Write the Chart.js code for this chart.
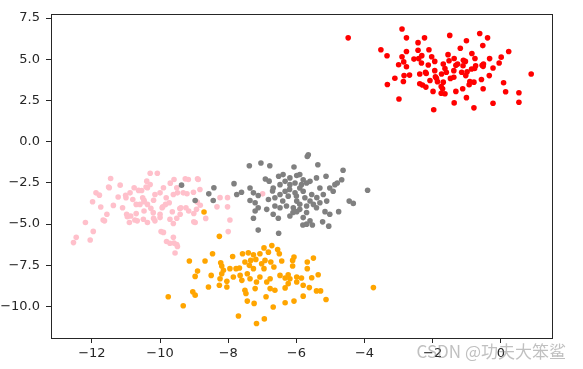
<!DOCTYPE html>
<html>
<head>
<meta charset="utf-8">
<script src="https://cdn.jsdelivr.net/npm/chart.js@4/dist/chart.umd.min.js"></script>
<style>
html,body{margin:0;padding:0;background:#fff;}
#c{display:block;}
</style>
</head>
<body>
<canvas id="c" width="583" height="369"></canvas>
<script>
// ---- data ----
const xTickValues = [-12, -10, -8, -6, -4, -2, 0];
const xTickLabels = ["\u221212", "\u221210", "\u22128", "\u22126", "\u22124", "\u22122", "0"];
const yTickValues = [7.5, 5.0, 2.5, 0.0, -2.5, -5.0, -7.5, -10.0];
const yTickLabels = ["7.5", "5.0", "2.5", "0.0", "\u22122.5", "\u22125.0", "\u22127.5", "\u221210.0"];
const xRange = [-13.2, 1.53];
const yRange = [-11.92, 7.76];

const redPoints = [
[-4.48,6.30],[-2.90,6.84],[-2.77,6.30],[-2.43,6.01],[-2.24,6.30],[-1.50,6.45],[-1.01,6.12],[-0.62,6.56],[-0.39,6.30],[-0.53,5.83],
[-3.52,5.58],[-3.34,5.21],[-2.77,5.47],[-2.43,5.55],[-2.11,5.58],[-1.19,5.67],[-0.85,5.35],[0.23,5.47],[0.01,5.13],[-2.90,5.15],
[-2.55,5.01],[-2.32,5.22],[-2.03,5.15],[-1.55,5.28],[-1.37,5.05],[-1.04,4.87],[-0.76,5.05],[-3.00,4.67],[-2.77,4.55],[-2.33,4.77],
[-2.13,4.65],[-1.94,4.87],[-1.69,4.71],[-1.52,4.91],[-1.27,4.71],[-1.11,4.61],[-0.74,4.61],[-0.51,4.71],[-0.23,4.47],[-0.05,4.77],
[0.89,4.11],[-3.11,3.85],[-2.84,4.01],[-2.38,4.11],[-2.21,4.21],[-1.94,4.31],[-1.74,4.11],[-1.60,4.21],[-1.38,4.31],[-1.15,4.21],
[-1.03,4.01],[-0.86,4.41],[-0.52,4.57],[-0.34,4.01],[-3.33,3.47],[-2.86,3.65],[-2.38,3.51],[-2.08,3.71],[-1.89,3.85],[-1.69,3.61],
[-1.38,3.91],[-0.91,3.65],[-0.79,3.61],[-0.57,3.77],[0.08,3.57],[-2.20,3.31],[-1.99,3.05],[-1.71,3.21],[-1.64,2.91],[-1.32,3.05],
[-1.12,3.21],[-0.93,3.45],[-0.52,3.21],[0.14,3.03],[0.53,2.97],[-2.99,2.59],[-1.37,2.35],[-1.01,2.67],[-0.79,2.05],[-0.23,2.33],
[0.53,2.39],[-1.97,1.94],[-2.41,5.04],[-2.19,4.14],[-1.92,3.94],[-1.86,3.64],[-1.75,3.34],[-1.64,4.44],[-1.32,4.64],[-1.10,4.94],
[-0.99,4.24],[-0.77,4.44],[-0.55,4.64],[-2.30,3.44],[-2.68,4.04],[-2.85,4.84],[-0.33,5.04],[-1.75,2.94],[-1.48,3.84]
];

const pinkPoints = [
[-11.45,-2.24],[-11.17,-2.64],[-11.49,-2.80],[-11.88,-3.11],[-11.78,-3.25],[-11.98,-3.65],[-11.74,-3.97],[-11.37,-3.87],[-11.56,-4.41],[-11.63,-4.81],
[-12.19,-4.91],[-11.96,-5.45],[-12.46,-5.81],[-12.54,-6.13],[-12.05,-5.97],[-10.29,-1.92],[-10.08,-1.92],[-10.39,-2.40],[-10.29,-2.60],[-10.37,-2.80],
[-10.54,-2.97],[-10.76,-2.80],[-10.88,-3.11],[-11.00,-3.41],[-11.10,-4.01],[-10.98,-4.41],[-10.86,-4.51],[-10.90,-4.91],[-10.67,-4.81],[-10.51,-3.41],
[-10.47,-3.65],[-10.37,-3.81],[-10.27,-4.05],[-10.15,-3.21],[-10.00,-3.11],[-9.90,-2.80],[-9.94,-4.01],[-9.84,-3.81],[-9.73,-3.71],[-9.82,-3.41],
[-9.59,-2.30],[-9.51,-2.80],[-9.61,-3.21],[-9.49,-3.11],[-9.32,-3.11],[-9.17,-2.30],[-8.88,-2.30],[-8.83,-2.91],[-9.39,-4.01],[-9.24,-4.01],
[-9.16,-4.21],[-9.41,-4.41],[-9.51,-4.65],[-9.71,-4.71],[-9.61,-4.97],[-10.00,-4.61],[-10.15,-4.81],[-10.37,-4.91],[-10.49,-4.71],[-10.70,-4.37],
[-10.47,-4.21],[-10.20,-4.31],[-10.00,-4.41],[-8.97,-4.91],[-8.93,-4.11],[-9.90,-5.51],[-9.61,-5.81],[-9.71,-6.17],[-9.49,-6.37],[-10.59,-3.81],
[-10.70,-3.81],[-10.80,-3.51],[-9.56,-6.76],[-8.24,-3.40],[-8.02,-3.40],[-8.33,-3.96],[-8.02,-3.96],[-7.95,-4.76],[-8.00,-5.46],[-8.66,-4.66],
[-9.01,-4.86],[-8.90,-2.26],[-9.26,-2.26],[-9.70,-2.52],[-6.99,-3.17],[-9.97,-5.46],[-9.81,-6.06],[-9.59,-6.16],[-9.01,-4.36],[-8.82,-3.86],
[-9.21,-3.16],[-10.41,-2.76],[-10.96,-4.56],[-10.74,-4.76],[-10.19,-4.66],[-11.67,-4.76],[-11.51,-2.76],[-11.23,-3.36],[-11.01,-3.26],[-10.63,-2.96],
[-10.47,-3.56],[-10.19,-3.56],[-9.92,-3.96],[-9.64,-4.26],[-9.42,-4.06],[-9.02,-3.07],[-8.91,-3.67],[-9.51,-6.25]
];

const greyPoints = [
[-5.65,-0.80],[-5.68,-0.90],[-7.38,-1.46],[-7.04,-1.30],[-6.78,-1.46],[-6.07,-1.54],[-5.37,-1.40],[-4.63,-1.74],[-7.83,-2.55],[-6.91,-2.27],
[-6.52,-2.10],[-6.39,-2.00],[-6.19,-2.20],[-5.99,-2.06],[-5.90,-2.00],[-5.80,-2.31],[-5.70,-2.51],[-5.60,-2.41],[-5.41,-2.20],[-5.13,-2.10],
[-4.80,-2.51],[-4.87,-2.61],[-4.67,-2.31],[-3.91,-2.95],[-7.75,-3.21],[-7.61,-3.07],[-7.36,-2.81],[-7.26,-3.11],[-7.12,-3.27],[-7.36,-3.57],
[-7.21,-3.71],[-6.82,-3.51],[-6.68,-2.81],[-6.48,-2.61],[-6.33,-3.01],[-6.63,-3.41],[-6.48,-3.21],[-6.24,-3.31],[-6.04,-3.11],[-5.90,-2.81],
[-5.80,-3.01],[-5.99,-3.61],[-5.75,-3.41],[-5.55,-3.21],[-5.31,-2.81],[-5.21,-3.21],[-5.11,-3.61],[-5.31,-3.71],[-5.50,-3.81],[-5.70,-3.91],
[-5.90,-4.11],[-6.09,-4.01],[-6.29,-3.91],[-6.48,-4.01],[-6.63,-3.91],[-6.87,-4.11],[-7.12,-4.01],[-7.21,-4.21],[-7.26,-4.65],[-6.68,-4.41],
[-6.53,-4.65],[-6.19,-4.51],[-5.99,-4.25],[-5.80,-4.61],[-5.70,-5.01],[-5.60,-4.81],[-5.16,-4.25],[-5.02,-4.41],[-4.76,-4.25],[-5.23,-4.87],
[-5.05,-5.13],[-4.45,-3.61],[-4.33,-3.75],[-7.12,-5.37],[-5.41,-4.01],[-6.19,-2.61],[-6.33,-2.41],[-6.04,-2.51],[-5.85,-2.61],[-4.92,-3.01],
[-5.02,-2.81],[-9.37,-2.64],[-8.97,-3.57],[-8.57,-3.17],[-8.42,-2.80],[-8.44,-3.57],[-6.52,-5.56],[-5.81,-5.06],[-5.53,-5.06],[-6.40,-3.60],
[-6.00,-3.30],[-5.60,-3.60],[-6.20,-2.90],[-5.90,-3.80],[-6.70,-3.00],[-5.40,-3.40],[-6.10,-4.30],[-5.70,-4.30],[-6.80,-2.40]
];

const orangePoints = [
[-8.26,-5.75],[-6.72,-6.31],[-6.95,-6.45],[-6.55,-6.55],[-8.46,-6.81],[-7.58,-6.81],[-7.41,-6.75],[-7.26,-6.87],[-7.07,-6.81],[-6.82,-6.71],
[-6.50,-6.81],[-7.87,-6.97],[-9.14,-7.25],[-8.68,-7.25],[-8.22,-7.35],[-7.34,-7.21],[-7.19,-7.15],[-6.92,-7.21],[-6.75,-7.31],[-6.43,-7.25],
[-6.07,-7.01],[-6.11,-7.21],[-5.68,-7.31],[-5.50,-7.07],[-8.90,-7.86],[-8.97,-8.18],[-8.50,-8.12],[-8.19,-7.55],[-8.14,-7.81],[-7.95,-7.71],
[-7.67,-7.67],[-7.38,-7.51],[-6.95,-7.71],[-6.66,-7.61],[-6.11,-7.55],[-5.68,-7.71],[-8.24,-8.32],[-8.04,-8.48],[-7.65,-8.12],[-7.44,-8.02],
[-7.60,-8.42],[-7.36,-8.32],[-7.07,-8.22],[-6.77,-8.32],[-6.48,-8.12],[-6.33,-8.28],[-6.24,-8.08],[-5.99,-8.22],[-5.85,-8.28],[-5.55,-8.26],
[-5.36,-8.08],[-8.58,-8.82],[-8.26,-8.72],[-8.04,-8.82],[-7.51,-9.02],[-7.21,-8.92],[-6.77,-8.92],[-6.63,-9.02],[-6.33,-8.88],[-6.24,-8.62],
[-5.80,-8.72],[-5.62,-8.86],[-5.41,-9.06],[-5.29,-9.06],[-9.04,-9.12],[-8.97,-9.32],[-9.76,-9.42],[-9.32,-9.96],[-7.48,-9.22],[-7.44,-9.68],
[-7.24,-9.82],[-6.89,-9.42],[-6.33,-9.78],[-6.07,-9.68],[-5.80,-9.38],[-5.13,-9.58],[-6.68,-10.04],[-7.70,-10.58],[-7.17,-11.04],[-6.94,-10.76],
[-3.74,-8.86],[-8.19,-8.02],[-7.26,-7.71],[-7.17,-8.52],[-6.87,-8.52],[-6.19,-8.32],[-7.02,-7.41],[-7.51,-7.31],[-7.77,-7.71],[-7.85,-8.22],
[-5.99,-8.52],[-8.71,-4.27]
];

const watermark = "CSDN @\u529F\u592B\u5927\u7B28\u9CA8";

// ---- chart ----
const toXY = arr => arr.map(p => ({x: p[0], y: p[1]}));
const FONT = "'DejaVu Sans', sans-serif";

const framePlugin = {
  id: 'frame',
  afterDraw(chart) {
    const a = chart.chartArea, ctx = chart.ctx;
    ctx.save();
    ctx.strokeStyle = '#262626';
    ctx.lineWidth = 1;
    ctx.strokeRect(Math.round(a.left) + 0.5, Math.round(a.top) + 0.5,
                   Math.round(a.right - a.left) - 1, Math.round(a.bottom - a.top));
    ctx.font = "17px 'Noto Sans CJK SC', sans-serif";
    ctx.fillStyle = 'rgba(130,130,130,0.5)';
    ctx.textAlign = 'right';
    ctx.textBaseline = 'middle';
    ctx.fillText(watermark, 566, 352);
    ctx.restore();
  }
};

function mkDataset(points, color) {
  return {
    data: toXY(points),
    backgroundColor: color,
    borderColor: color,
    borderWidth: 0,
    pointRadius: 2.8,
    pointHoverRadius: 2.8
  };
}

new Chart(document.getElementById('c'), {
  type: 'scatter',
  data: {
    datasets: [
      mkDataset(redPoints, '#ff0000'),
      mkDataset(greyPoints, '#808080'),
      mkDataset(pinkPoints, '#ffc0cb'),
      mkDataset(orangePoints, '#ffa500')
    ]
  },
  options: {
    responsive: false,
    animation: false,
    devicePixelRatio: 1,
    layout: { padding: { top: 11, right: 30, left: 0, bottom: 0 } },
    plugins: { legend: { display: false }, tooltip: { enabled: false } },
    scales: {
      x: {
        type: 'linear',
        min: xRange[0], max: xRange[1],
        afterBuildTicks: s => { s.ticks = xTickValues.map(v => ({value: v})); },
        afterFit: s => { s.height = 31; },
        border: { display: false },
        grid: { drawOnChartArea: false, drawTicks: true, tickLength: 5, tickColor: '#262626', tickWidth: 1 },
        ticks: {
          autoSkip: false, maxRotation: 0, padding: 3,
          color: '#262626', font: { family: FONT, size: 13 },
          callback: v => { const i = xTickValues.indexOf(v); return i >= 0 ? xTickLabels[i] : ''; }
        }
      },
      y: {
        type: 'linear',
        min: yRange[0], max: yRange[1],
        afterBuildTicks: s => { s.ticks = yTickValues.map(v => ({value: v})); },
        afterFit: s => { s.width = 51; },
        border: { display: false },
        grid: { drawOnChartArea: false, drawTicks: true, tickLength: 5, tickColor: '#262626', tickWidth: 1 },
        ticks: {
          autoSkip: false, padding: 6,
          color: '#262626', font: { family: FONT, size: 13 },
          callback: v => { const i = yTickValues.indexOf(v); return i >= 0 ? yTickLabels[i] : ''; }
        }
      }
    }
  },
  plugins: [framePlugin]
});
</script>
</body>
</html>
